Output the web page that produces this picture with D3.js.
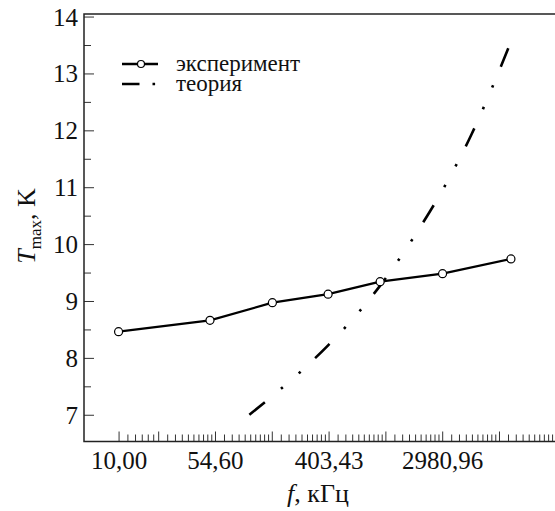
<!DOCTYPE html>
<html>
<head>
<meta charset="utf-8">
<script src="https://cdn.jsdelivr.net/npm/d3@7"></script>
<style>
  body { margin: 0; background: #fff; }
</style>
</head>
<body>
<svg id="chart" width="555" height="511"></svg>
<script>
// experiment: frequency (kHz) and T_max (K)
const expFreq = [10, 50, 150, 400, 1000, 3000, 10000]
const expT = [8.46, 8.66, 8.97, 9.12, 9.34, 9.48, 9.74]

// theory curve
const thFreq = [100, 150, 250, 400, 600, 1000, 1500, 2000, 3000, 5000, 7000, 10000]
const thT = [7.0, 7.33, 7.77, 8.22, 8.65, 9.27, 9.84, 10.28, 10.95, 11.93, 12.69, 13.56]

const yTicks = [7, 8, 9, 10, 11, 12, 13, 14]
const xLabelTicks = [10, Math.exp(4), Math.exp(6), Math.exp(8)]
const legendNames = ['эксперимент', 'теория']

const plotLeft = 84, plotTop = 14, plotBottom = 441.5, plotRight = 555
const font = 'Liberation Serif'

const svg = d3.select('#chart')

const x = d3.scaleLog().base(Math.E)
  .domain([Math.exp(1.694), Math.exp(9.986)])
  .range([plotLeft, plotRight])

const y = d3.scaleLinear()
  .domain([6.53, 14.045])
  .range([plotBottom, plotTop])

const fmt = d3.formatLocale({decimal: ',', thousands: '', grouping: [3], currency: ['', '']}).format('.2f')

// x ticks: tall ones at 10 and e^n, minor ones splitting each interval
const xMajor = [10].concat(d3.range(3, 10).map(n => Math.exp(n)))
let xMinor = d3.range(1, 6).map(k => 10 + k * (Math.exp(3) - 10) / 6)
d3.range(3, 10).forEach(n => {
  const a = Math.exp(n), b = Math.exp(n + 1)
  d3.range(1, 10).forEach(k => {
    const v = a + k * (b - a) / 10
    if (v < x.domain()[1]) xMinor.push(v)
  })
})

// minor x ticks
svg.append('g')
  .attr('transform', `translate(0,${plotBottom})`)
  .call(d3.axisBottom(x).tickValues(xMinor).tickSize(-7).tickFormat(''))
  .call(g => g.select('.domain').remove())

const gx = svg.append('g')
  .attr('transform', `translate(0,${plotBottom})`)
  .call(d3.axisBottom(x).tickValues(xMajor).tickSize(-10)
    .tickFormat(v => xLabelTicks.some(t => Math.abs(t - v) < 1e-6) ? fmt(v) : ''))
gx.select('.domain').remove()
gx.selectAll('text')
  .attr('y', 27).attr('dy', null)
  .style('font-size', '25px')
  .style('font-family', font)
  .attr('fill', '#111')

// y ticks
svg.append('g')
  .attr('transform', `translate(${plotLeft},0)`)
  .call(d3.axisLeft(y).tickValues(d3.range(7.5, 14, 1)).tickSize(-7).tickFormat(''))
  .call(g => g.select('.domain').remove())

const gy = svg.append('g')
  .attr('transform', `translate(${plotLeft},0)`)
  .call(d3.axisLeft(y).tickValues(yTicks).tickSize(-10).tickPadding(6).tickFormat(d3.format('d')))
gy.select('.domain').remove()
gy.selectAll('text')
  .style('font-size', '25px')
  .style('font-family', font)
  .attr('fill', '#111')
  .attr('dy', '0.34em')

svg.selectAll('.tick line').attr('stroke', '#333').attr('stroke-width', 1)

// frame: left, top, bottom
svg.append('path')
  .attr('d', `M${plotRight + 5},${plotTop}H${plotLeft}V${plotBottom}H${plotRight + 5}`)
  .attr('fill', 'none')
  .attr('stroke', '#222')
  .attr('stroke-width', 1.5)

const dashDot = '20 21 2.5 21 2.5 20'

// theory
const thData = thFreq.map((f, i) => ({f, t: thT[i]}))
svg.append('path')
  .datum(thData)
  .attr('d', d3.line().x(d => x(d.f)).y(d => y(d.t)).curve(d3.curveMonotoneX))
  .attr('fill', 'none')
  .attr('stroke', '#000')
  .attr('stroke-width', 2.6)
  .attr('stroke-dasharray', dashDot)

// experiment
const expData = expFreq.map((f, i) => ({f, t: expT[i]}))
svg.append('path')
  .datum(expData)
  .attr('d', d3.line().x(d => x(d.f)).y(d => y(d.t)))
  .attr('fill', 'none')
  .attr('stroke', '#000')
  .attr('stroke-width', 2.3)

svg.append('g')
  .selectAll('circle')
  .data(expData)
  .join('circle')
  .attr('cx', d => x(d.f))
  .attr('cy', d => y(d.t))
  .attr('r', 4)
  .attr('fill', '#fff')
  .attr('stroke', '#000')
  .attr('stroke-width', 1.2)

// legend
const leg = svg.append('g')
leg.append('line')
  .attr('x1', 122).attr('x2', 158).attr('y1', 64).attr('y2', 64)
  .attr('stroke', '#000').attr('stroke-width', 2.3)
leg.append('circle')
  .attr('cx', 141).attr('cy', 64).attr('r', 3.5)
  .attr('fill', '#fff').attr('stroke', '#000').attr('stroke-width', 1.2)
leg.append('line')
  .attr('x1', 122).attr('x2', 158).attr('y1', 84).attr('y2', 84)
  .attr('stroke', '#000').attr('stroke-width', 2.6)
  .attr('stroke-dasharray', '17.5 13 2.6 40')
leg.selectAll('text')
  .data(legendNames)
  .join('text')
  .attr('x', 176)
  .attr('y', (d, i) => 64 + i * 20)
  .attr('dy', '0.3em')
  .style('font-size', '23px')
  .style('font-family', font)
  .attr('fill', '#111')
  .text(d => d)

// axis titles
const xt = svg.append('text')
  .attr('x', 318).attr('y', 502)
  .attr('text-anchor', 'middle')
  .style('font-size', '26px')
  .style('font-family', font)
  .attr('fill', '#111')
xt.append('tspan').style('font-style', 'italic').text('f')
xt.append('tspan').text(', кГц')

const yt = svg.append('text')
  .attr('transform', 'translate(35,226) rotate(-90)')
  .attr('text-anchor', 'middle')
  .style('font-size', '26px')
  .style('font-family', font)
  .attr('fill', '#111')
yt.append('tspan').style('font-style', 'italic').text('T')
yt.append('tspan').attr('dy', 6).style('font-size', '17px').text('max')
yt.append('tspan').attr('dy', -6).text(', K')
</script>
</body>
</html>
